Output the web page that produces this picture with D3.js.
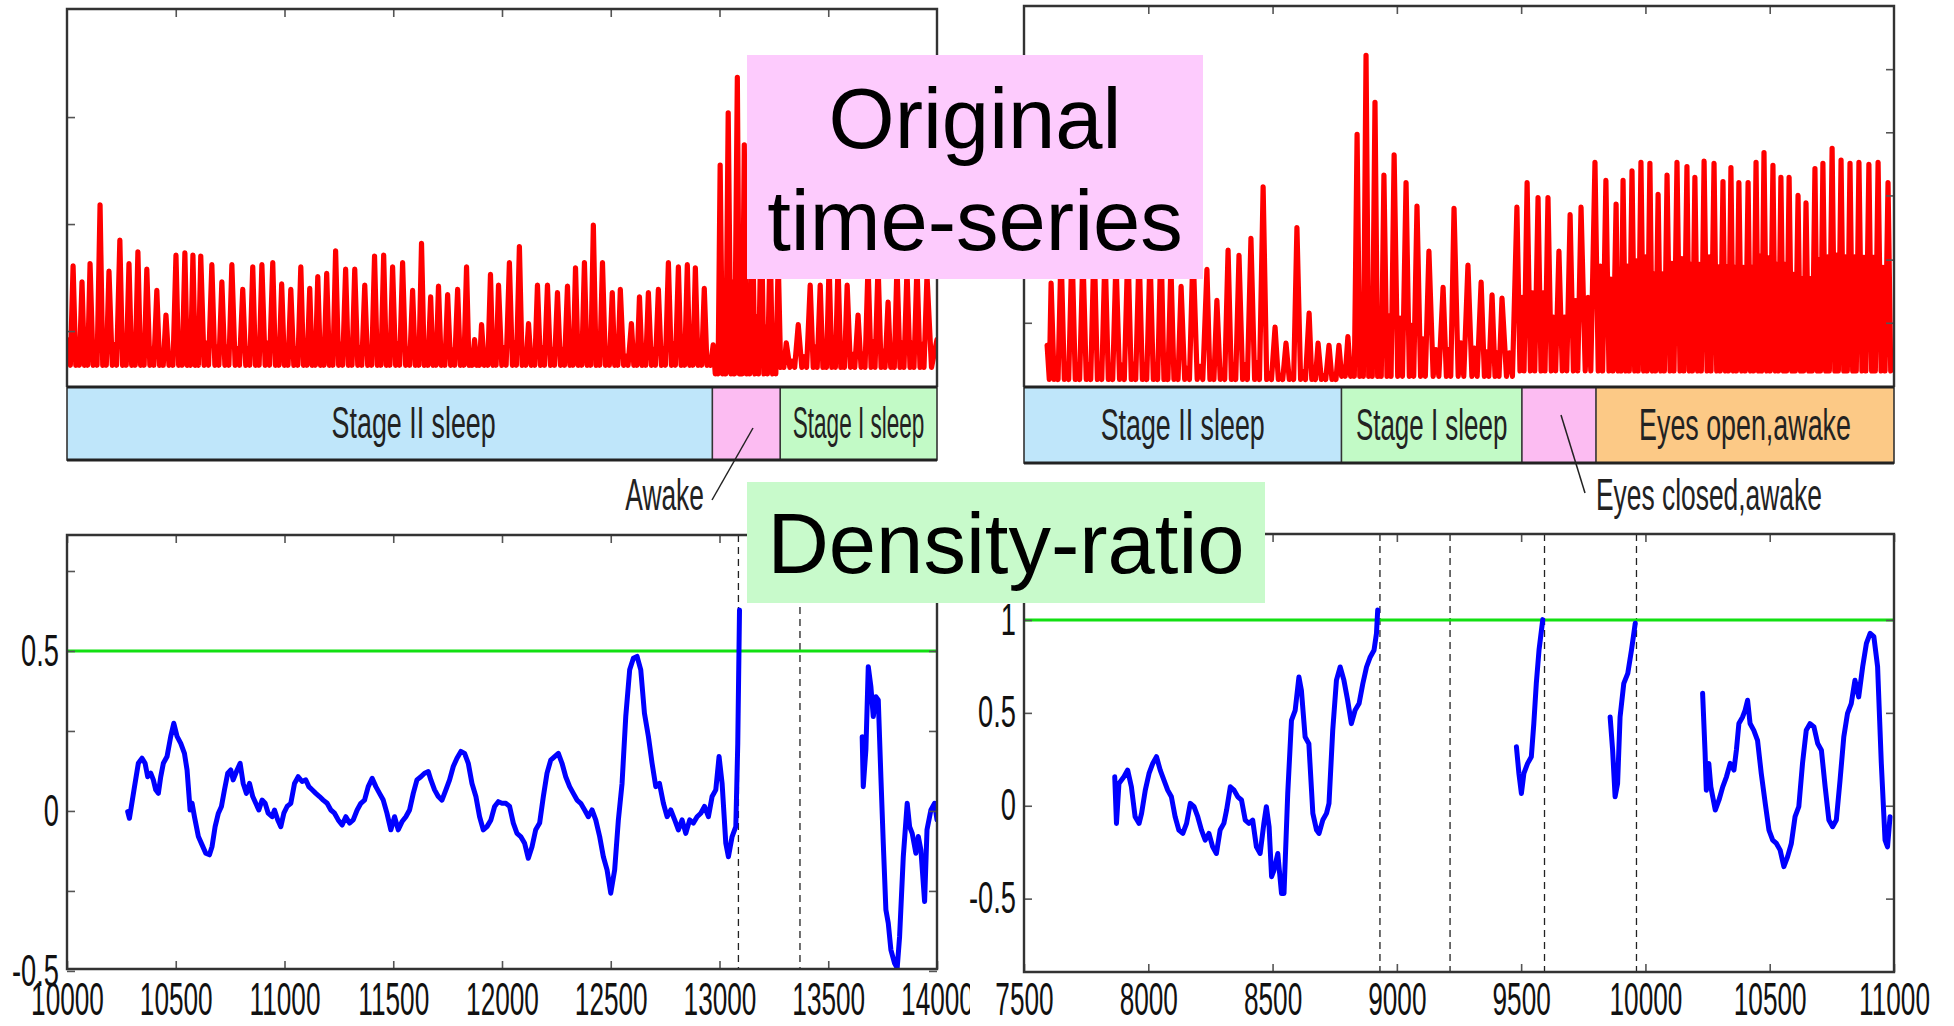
<!DOCTYPE html>
<html>
<head>
<meta charset="utf-8">
<script src="https://cdn.jsdelivr.net/npm/d3@7"></script>
<style>
html, body { margin: 0; padding: 0; background: #fff; }
svg { display: block; }
</style>
</head>
<body>
<div class="canvas"></div>
<script>
// ---- data ----

// tick values
const leftXTicks = [10000, 10500, 11000, 11500, 12000, 12500, 13000, 13500, 14000];
const rightXTicks = [7500, 8000, 8500, 9000, 9500, 10000, 10500, 11000];
const leftRatioTicks = [-0.5, -0.25, 0, 0.25, 0.5, 0.75];
const leftRatioLabels = [-0.5, 0, 0.5];
const rightRatioTicks = [-0.5, 0, 0.5, 1];
const signalTicksLeft = [1, 2, 3];
const signalTicksRight = [1, 1.59, 2.19, 2.78, 3.37];

// sleep stages under the raw signal
const leftStages = ['Stage II sleep', 'Awake', 'Stage I sleep'];
const leftStageEdges = [10000, 12967, 13279, 14000];
const rightStages = ['Stage II sleep', 'Stage I sleep', 'Eyes closed,awake', 'Eyes open,awake'];
const rightStageEdges = [7500, 8777, 9503, 9801, 11000];

// baseline (trough) level of the raw signal per stage, and how high the
// small mid-beat wave rises (share of the lower neighbouring peak)
const leftTrough = [0.68, 0.60, 0.66];
const leftNotchShare = [0.22, 0.35, 0.25];
const rightTrough = [0.47, 0.50, 0.55, 0.55];
const rightNotchShare = [0.12, 0.30, 0.45, 0.55];

// raw time-series: start, beat peaks [t, amplitude], end
const leftStart = [10000, 0.92];
const leftEnd = [14000, 0.92];
const leftPeaks = [
    [10028,1.61],[10069,1.46],[10106,1.63],[10152,2.18],[10193,1.56],[10243,1.85],[10285,1.63],[10326,1.74],
    [10367,1.58],[10413,1.38],[10455,1.15],[10501,1.71],[10542,1.73],[10579,1.71],[10615,1.70],[10666,1.62],
    [10712,1.46],[10758,1.62],[10808,1.39],[10854,1.60],[10896,1.62],[10946,1.64],[10987,1.44],[11029,1.39],
    [11075,1.60],[11116,1.40],[11153,1.51],[11194,1.54],[11235,1.75],[11281,1.58],[11323,1.58],[11369,1.43],
    [11414,1.70],[11456,1.71],[11497,1.60],[11543,1.64],[11589,1.38],[11630,1.82],[11672,1.32],[11708,1.42],
    [11750,1.34],[11796,1.39],[11837,1.60],[11874,0.92],[11906,1.06],[11947,1.53],[11984,1.43],[12034,1.64],
    [12080,1.79],[12122,1.07],[12163,1.43],[12209,1.43],[12255,1.36],[12301,1.42],[12338,1.59],[12379,1.64],
    [12420,1.99],[12462,1.64],[12507,1.36],[12544,1.39],[12595,1.07],[12632,1.32],[12673,1.36],[12719,1.39],
    [12765,1.64],[12811,1.60],[12852,1.62],[12889,1.59],[12930,1.40],[12971,0.87],[13003,2.55],[13040,3.04],
    [13082,3.37],[13114,2.74],[13150,2.32],[13192,2.13],[13233,1.85],[13270,1.66],[13307,0.89],[13362,1.06],
    [13417,1.43],[13463,1.43],[13504,1.62],[13545,1.62],[13587,1.43],[13637,1.15],[13683,1.62],[13729,1.62],
    [13775,1.27],[13816,1.62],[13862,1.57],[13908,1.62],[13954,1.52]
];
const rightStart = [7593, 0.79];
const rightEnd = [11000, 0.68];
const rightPeaks = [
    [7609,1.37],[7649,1.68],[7693,1.73],[7737,1.64],[7782,1.78],[7826,1.68],[7870,1.59],[7918,1.73],
    [7963,1.68],[8007,1.64],[8051,1.78],[8091,1.54],[8132,1.34],[8180,1.68],[8236,1.50],[8276,1.21],
    [8321,1.68],[8365,1.63],[8413,1.79],[8462,2.27],[8510,0.96],[8554,0.81],[8598,1.89],[8647,1.09],
    [8683,0.81],[8727,0.79],[8767,0.79],[8803,0.87],[8840,2.76],[8876,3.50],[8912,3.06],[8948,2.38],
    [8989,2.57],[9037,2.31],[9081,2.09],[9129,1.67],[9186,1.33],[9230,2.07],[9286,1.54],[9339,1.38],
    [9383,1.26],[9423,1.23],[9483,2.08],[9524,2.31],[9568,2.17],[9608,2.17],[9652,1.67],[9697,2.01],
    [9741,2.08],[9797,2.50],[9841,2.33],[9882,2.11],[9910,2.33],[9946,2.42],[9982,2.50],[10018,2.49],
    [10051,2.20],[10087,2.38],[10127,2.50],[10167,2.46],[10199,2.36],[10236,2.51],[10276,2.49],[10312,2.32],
    [10344,2.45],[10376,2.31],[10413,2.31],[10445,2.50],[10477,2.59],[10513,2.47],[10545,2.36],[10578,2.36],
    [10614,2.19],[10646,2.12],[10682,2.44],[10714,2.49],[10751,2.63],[10787,2.52],[10823,2.49],[10859,2.50],
    [10899,2.48],[10936,2.50],[10976,2.31]
];

// density-ratio curves (gaps where no estimate was drawn)
const leftRatioA = [
    [10279,-0.002],[10287,-0.023],[10308,0.066],[10328,0.149],[10345,0.165],[10359,0.149],[10371,0.107],[10385,0.118],
    [10397,0.097],[10408,0.066],[10420,0.055],[10431,0.107],[10443,0.149],[10460,0.170],[10477,0.233],[10491,0.274],
    [10506,0.233],[10523,0.211],[10540,0.180],[10552,0.128],[10566,0.003],[10575,0.024],[10586,-0.018],[10604,-0.080],
    [10621,-0.106],[10638,-0.132],[10655,-0.137],[10667,-0.111],[10681,-0.049],[10696,-0.007],[10710,0.014],[10724,0.066],
    [10739,0.118],[10753,0.128],[10764,0.097],[10782,0.128],[10796,0.149],[10810,0.086],[10825,0.055],[10839,0.086],
    [10854,0.045],[10868,0.024],[10882,0.003],[10897,0.034],[10911,0.024],[10925,-0.007],[10943,-0.018],[10954,0.003],
    [10969,-0.028],[10983,-0.049],[10997,-0.007],[11012,0.014],[11029,0.024],[11046,0.086],[11063,0.107],[11081,0.092],
    [11098,0.097],[11112,0.076],[11127,0.066],[11144,0.055],[11161,0.045],[11178,0.034],[11196,0.024],[11213,0.003],
    [11230,-0.007],[11247,-0.028],[11265,-0.044],[11282,-0.018],[11299,-0.038],[11316,-0.028],[11334,0.003],[11351,0.024],
    [11368,0.034],[11385,0.076],[11403,0.102],[11420,0.076],[11437,0.055],[11454,0.034],[11471,-0.007],[11489,-0.059],
    [11506,-0.018],[11523,-0.059],[11540,-0.034],[11558,-0.018],[11575,0.003],[11592,0.055],[11609,0.097],[11627,0.107],
    [11644,0.118],[11661,0.123],[11673,0.097],[11690,0.066],[11707,0.045],[11724,0.034],[11742,0.066],[11759,0.097],
    [11776,0.139],[11793,0.165],[11811,0.186],[11828,0.180],[11845,0.149],[11862,0.086],[11880,0.045],[11897,-0.018],
    [11914,-0.059],[11931,-0.049],[11949,-0.028],[11966,0.014],[11983,0.029],[12000,0.024],[12018,0.024],[12035,0.014],
    [12052,-0.038],[12069,-0.070],[12086,-0.080],[12104,-0.101],[12121,-0.148],[12138,-0.112],[12155,-0.059],[12173,-0.038],
    [12190,0.045],[12207,0.118],[12224,0.159],[12242,0.170],[12259,0.180],[12276,0.149],[12293,0.107],[12311,0.076],
    [12328,0.055],[12345,0.034],[12362,0.024],[12380,0.003],[12397,-0.018],[12414,0.003],[12431,-0.028],[12449,-0.080],
    [12466,-0.143],[12483,-0.184],[12500,-0.257],[12518,-0.184],[12535,-0.028],[12552,0.086],[12569,0.295],[12587,0.441],
    [12604,0.477],[12621,0.483],[12638,0.441],[12655,0.305],[12673,0.233],[12690,0.149],[12707,0.076],[12724,0.086],
    [12742,0.024],[12759,-0.018],[12776,0.003],[12794,-0.028],[12811,-0.059],[12828,-0.028],[12845,-0.070],[12863,-0.028],
    [12880,-0.038],[12897,-0.018],[12914,-0.007],[12931,0.014],[12949,-0.018],[12966,0.045],[12983,0.066],[12998,0.170],
    [13012,0.086],[13029,-0.101],[13041,-0.143],[13058,-0.080],[13075,-0.049],[13084,0.211],[13092,0.628]
];
const leftRatioB = [
    [13656,0.232],[13661,0.076],[13673,0.191],[13684,0.451],[13696,0.389],[13707,0.295],[13719,0.357],[13730,0.347],
    [13742,0.107],[13753,-0.101],[13765,-0.309],[13776,-0.351],[13788,-0.434],[13805,-0.476],[13817,-0.491],[13828,-0.393],
    [13845,-0.143],[13863,0.024],[13874,-0.049],[13886,-0.070],[13903,-0.132],[13914,-0.080],[13926,-0.122],[13943,-0.283],
    [13954,-0.059],[13972,0.003],[13989,0.024],[14000,-0.028]
];
const rightRatioA = [
    [7865,0.156],[7872,-0.095],[7882,0.120],[7902,0.156],[7917,0.192],[7932,0.102],[7947,-0.059],[7963,-0.095],
    [7973,-0.041],[7988,0.084],[8003,0.174],[8018,0.228],[8033,0.264],[8048,0.192],[8063,0.138],[8078,0.084],
    [8093,0.048],[8108,-0.059],[8123,-0.131],[8139,-0.149],[8154,-0.095],[8169,0.013],[8184,-0.005],[8199,-0.059],
    [8214,-0.131],[8229,-0.185],[8244,-0.149],[8259,-0.221],[8274,-0.257],[8289,-0.131],[8304,-0.095],[8315,-0.023],
    [8330,0.102],[8345,0.084],[8360,0.048],[8375,0.031],[8390,-0.077],[8405,-0.095],[8420,-0.077],[8435,-0.221],
    [8450,-0.257],[8465,-0.095],[8475,-0.005],[8486,-0.113],[8496,-0.382],[8506,-0.346],[8521,-0.257],[8536,-0.472],
    [8546,-0.472],[8561,0.066],[8576,0.460],[8591,0.514],[8606,0.693],[8616,0.621],[8631,0.370],[8646,0.334],
    [8662,-0.041],[8677,-0.131],[8687,-0.149],[8702,-0.077],[8717,-0.041],[8727,0.013],[8742,0.406],[8757,0.676],
    [8772,0.747],[8787,0.676],[8802,0.568],[8817,0.442],[8832,0.514],[8848,0.550],[8863,0.657],[8878,0.747],
    [8893,0.801],[8908,0.837],[8918,0.928],[8923,1.054]
];
const rightRatioB = [
    [9481,0.318],[9491,0.174],[9501,0.066],[9511,0.174],[9526,0.228],[9541,0.264],[9551,0.443],[9561,0.659],
    [9572,0.839],[9587,1.002]
];
const rightRatioC = [
    [9858,0.478],[9868,0.300],[9878,0.048],[9888,0.120],[9898,0.478],[9913,0.659],[9929,0.713],[9944,0.839],
    [9959,0.982]
];
const rightRatioD = [
    [10230,0.606],[10240,0.285],[10245,0.084],[10255,0.228],[10263,0.102],[10281,-0.023],[10296,0.031],[10311,0.102],
    [10326,0.156],[10341,0.228],[10356,0.192],[10366,0.300],[10376,0.443],[10391,0.478],[10401,0.514],[10411,0.568],
    [10421,0.443],[10436,0.406],[10451,0.352],[10466,0.174],[10482,0.013],[10497,-0.131],[10512,-0.185],[10527,-0.203],
    [10542,-0.239],[10557,-0.328],[10572,-0.274],[10587,-0.203],[10602,-0.059],[10617,-0.005],[10632,0.229],[10647,0.406],
    [10662,0.442],[10678,0.424],[10693,0.335],[10708,0.299],[10723,0.102],[10738,-0.077],[10753,-0.113],[10768,-0.077],
    [10783,0.138],[10798,0.371],[10813,0.497],[10828,0.550],[10843,0.676],[10858,0.586],[10874,0.749],[10889,0.874],
    [10904,0.928],[10919,0.910],[10934,0.749],[10949,0.227],[10964,-0.185],[10974,-0.221],[10984,-0.059]
];

const leftThreshold = 0.5;
const rightThreshold = 1;
const leftChangePoints = [13087, 13370];
const rightChangePoints = [8932, 9214, 9594, 9964];

// ---- drawing ----
const FONT = '"Liberation Sans", Arial, Helvetica, sans-serif';

const stageColour = {
    'Stage II sleep': '#bfe6fa',
    'Stage I sleep': '#c2fac6',
    'Awake': '#fcbcf2',
    'Eyes closed,awake': '#fcbcf2',
    'Eyes open,awake': '#fcc986'
};

const svg = d3.select('.canvas')
    .append('svg')
    .attr('width', 1954)
    .attr('height', 1026)
;

const defs = svg.append('defs');

// squash text horizontally, like the stretched figure (optionally fit to maxW)
const squeeze = (sel, k, maxW) => {
    sel.each(function () {
        const el = d3.select(this);
        const w = this.getComputedTextLength();
        let kk = k;
        if (maxW && w * kk > maxW) kk = maxW / w;
        const x = +el.attr('x') || 0;
        el.attr('x', x / kk).attr('transform', `scale(${kk},1)`);
    });
};

const clipFor = (id, p) => {
    defs.append('clipPath').attr('id', id)
        .append('rect')
            .attr('x', p.x0).attr('y', p.y0)
            .attr('width', p.x1 - p.x0).attr('height', p.y1 - p.y0);
    return `url(#${id})`;
};

const styleAxis = (ax) => {
    ax.select('.domain').remove();
    ax.attr('font-family', FONT).attr('font-size', 46);
    ax.selectAll('.tick line').attr('stroke', '#555').attr('stroke-width', 1.6);
    ax.selectAll('.tick text').attr('fill', '#111');
};

// frame + inward ticks
const drawFrame = (p, x, y, opt) => {
    const g = svg.append('g');
    const fmt = d => String(d);

    if (opt.top) {
        const ax = g.append('g').attr('transform', `translate(0,${p.y0})`)
            .call(d3.axisTop(x).tickValues(opt.xTicks).tickSize(-8).tickFormat(''));
        styleAxis(ax);
    }
    if (opt.bottom) {
        const ax = g.append('g').attr('transform', `translate(0,${p.y1})`)
            .call(d3.axisBottom(x).tickValues(opt.xTicks).tickSize(-8).tickPadding(opt.xPad)
                .tickFormat(opt.xLabels ? fmt : ''));
        styleAxis(ax);
        if (opt.xClip) ax.attr('clip-path', opt.xClip);
        squeeze(ax.selectAll('.tick text'), 0.57);
    }
    if (opt.yTicks) {
        const labels = opt.yLabels || [];
        const ax = g.append('g').attr('transform', `translate(${p.x0},0)`)
            .call(d3.axisLeft(y).tickValues(opt.yTicks).tickSize(-8).tickPadding(8)
                .tickFormat(d => labels.includes(d) ? fmt(d) : ''));
        styleAxis(ax);
        ax.attr('font-size', 44);
        squeeze(ax.selectAll('.tick text'), 0.62);
    }
    if (opt.yTicksRight) {
        const ax = g.append('g').attr('transform', `translate(${p.x1},0)`)
            .call(d3.axisRight(y).tickValues(opt.yTicksRight).tickSize(-8).tickFormat(''));
        styleAxis(ax);
    }

    // box
    g.append('path')
        .attr('d', opt.open
            ? `M${p.x0},${p.y1}V${p.y0}H${p.x1}V${p.y1}`
            : `M${p.x0},${p.y0}H${p.x1}V${p.y1}H${p.x0}Z`)
        .attr('fill', 'none')
        .attr('stroke', '#333')
        .attr('stroke-width', 2.4)
    ;
    return g;
};

// raw signal: peaks joined through a trough / small wave / trough per beat
const beatLine = (start, peaks, end, edges, trough, share) => {
    const stageOf = t => Math.min(Math.max(0, d3.bisectRight(edges, t) - 1), trough.length - 1);
    const pts = [start];
    const seq = [start, ...peaks, end];
    for (let i = 1; i < seq.length; i++) {
        const a = seq[i - 1], b = seq[i];
        const dt = b[0] - a[0];
        const s = stageOf(a[0] + dt / 2);
        const tr = trough[s];
        const nt = tr + share[s] * (Math.min(a[1], b[1]) - tr);
        if (i === 1) {
            pts.push([a[0] + dt * 0.55, tr]);
        } else if (i === seq.length - 1) {
            pts.push([a[0] + dt * 0.45, tr]);
        } else {
            pts.push([a[0] + dt * 0.3, tr]);
            pts.push([a[0] + dt * 0.5, nt]);
            pts.push([a[0] + dt * 0.7, tr]);
        }
        pts.push(b);
    }
    return pts;
};

const drawSignal = (p, x, y, pts, clipId) => {
    svg.append('path')
        .datum(pts)
        .attr('clip-path', clipFor(clipId, p))
        .attr('d', d3.line().x(d => x(d[0])).y(d => y(d[1])))
        .attr('fill', 'none')
        .attr('stroke', '#ff0000')
        .attr('stroke-width', 5.2)
        .attr('stroke-linejoin', 'round')
        .attr('stroke-linecap', 'round')
    ;
};

const drawStages = (p, x, names, edges, insideLabel, labelShift) => {
    const g = svg.append('g');
    const segs = names.map((n, i) => ({ name: n, a: x(edges[i]), b: x(edges[i + 1]), shift: labelShift[i] || 0 }));

    g.selectAll('rect.stage')
        .data(segs)
        .enter()
        .append('rect')
            .attr('class', 'stage')
            .attr('x', d => d.a)
            .attr('y', p.y1)
            .attr('width', d => d.b - d.a)
            .attr('height', p.barBottom - p.y1)
            .attr('fill', d => stageColour[d.name])
    ;

    g.selectAll('line.div')
        .data(segs.slice(1))
        .enter()
        .append('line')
            .attr('class', 'div')
            .attr('x1', d => d.a).attr('x2', d => d.a)
            .attr('y1', p.y1).attr('y2', p.barBottom)
            .attr('stroke', '#333')
            .attr('stroke-width', 1.6)
    ;

    g.append('rect')
        .attr('x', p.x0).attr('y', p.y1)
        .attr('width', p.x1 - p.x0).attr('height', p.barBottom - p.y1)
        .attr('fill', 'none').attr('stroke', '#333').attr('stroke-width', 1.6);
    [p.y1, p.barBottom].forEach(yy => {
        g.append('line')
            .attr('x1', p.x0).attr('x2', p.x1).attr('y1', yy).attr('y2', yy)
            .attr('stroke', '#222').attr('stroke-width', 3.2);
    });

    const labelled = segs.filter(d => insideLabel.includes(d.name));
    const txt = g.selectAll('text.stage')
        .data(labelled)
        .enter()
        .append('text')
            .attr('class', 'stage')
            .attr('x', d => (d.a + d.b) / 2 + d.shift)
            .attr('y', (p.y1 + p.barBottom) / 2 + 15)
            .attr('text-anchor', 'middle')
            .attr('font-family', FONT)
            .attr('font-size', 44)
            .attr('fill', '#222')
            .text(d => d.name)
    ;
    txt.each(function (d) {
        squeeze(d3.select(this), 0.61, (d.b - d.a) * 0.84);
    });
};

const drawRatio = (p, x, y, segments, threshold, changes, clipId) => {
    const clip = clipFor(clipId, p);
    const g = svg.append('g').attr('clip-path', clip);

    g.selectAll('line.cp')
        .data(changes)
        .enter()
        .append('line')
            .attr('class', 'cp')
            .attr('x1', d => x(d)).attr('x2', d => x(d))
            .attr('y1', p.y0).attr('y2', p.y1)
            .attr('stroke', '#222')
            .attr('stroke-width', 1.3)
            .attr('stroke-dasharray', '7,5')
    ;

    g.append('line')
        .attr('x1', p.x0).attr('x2', p.x1)
        .attr('y1', y(threshold)).attr('y2', y(threshold))
        .attr('stroke', '#11e011')
        .attr('stroke-width', 3)
    ;

    const line = d3.line().x(d => x(d[0])).y(d => y(d[1]));
    g.selectAll('path.ratio')
        .data(segments)
        .enter()
        .append('path')
            .attr('class', 'ratio')
            .attr('d', line)
            .attr('fill', 'none')
            .attr('stroke', '#0000ff')
            .attr('stroke-width', 5)
            .attr('stroke-linejoin', 'round')
            .attr('stroke-linecap', 'round')
    ;
};

// layout
const pTL = { x0: 67, x1: 937, y0: 9, y1: 387, barBottom: 460 };
const pTR = { x0: 1024, x1: 1894, y0: 6, y1: 387, barBottom: 463 };
const pBL = { x0: 67, x1: 937, y0: 535, y1: 969 };
const pBR = { x0: 1024, x1: 1894, y0: 534, y1: 972 };

// scales
const xLeft = d3.scaleLinear().domain([leftXTicks[0], leftXTicks[leftXTicks.length - 1]]).range([pTL.x0, pTL.x1]);
const xRight = d3.scaleLinear().domain([rightXTicks[0], rightXTicks[rightXTicks.length - 1]]).range([pTR.x0, pTR.x1]);
const ySigLeft = d3.scaleLinear().domain([0.477, 4.01]).range([pTL.y1, pTL.y0]);
const ySigRight = d3.scaleLinear().domain([0.40, 3.96]).range([pTR.y1, pTR.y0]);
const yRatLeft = d3.scaleLinear().domain([-0.494, 0.8625]).range([pBL.y1, pBL.y0]);
const yRatRight = d3.scaleLinear().domain([-0.895, 1.463]).range([pBR.y1, pBR.y0]);

// top: original time-series
drawSignal(pTL, xLeft, ySigLeft,
    beatLine(leftStart, leftPeaks, leftEnd, leftStageEdges, leftTrough, leftNotchShare), 'clipTL');
drawFrame(pTL, xLeft, ySigLeft, { top: true, open: true, xTicks: leftXTicks.slice(1, -1), yTicks: signalTicksLeft });
drawStages(pTL, xLeft, leftStages, leftStageEdges, ['Stage II sleep', 'Stage I sleep'], [24, 0, 0]);

drawSignal(pTR, xRight, ySigRight,
    beatLine(rightStart, rightPeaks, rightEnd, rightStageEdges, rightTrough, rightNotchShare), 'clipTR');
drawFrame(pTR, xRight, ySigRight, { top: true, open: true, xTicks: rightXTicks.slice(1, -1),
    yTicks: signalTicksLeft, yTicksRight: signalTicksRight });
drawStages(pTR, xRight, rightStages, rightStageEdges, ['Stage II sleep', 'Stage I sleep', 'Eyes open,awake'], []);

// call-outs for the short awake spans
const callout = (x1, y1, x2, y2, tx, ty, anchor, label) => {
    svg.append('line')
        .attr('x1', x1).attr('y1', y1).attr('x2', x2).attr('y2', y2)
        .attr('stroke', '#222').attr('stroke-width', 1.5);
    const t = svg.append('text')
        .attr('x', tx).attr('y', ty)
        .attr('text-anchor', anchor)
        .attr('font-family', FONT)
        .attr('font-size', 44)
        .attr('fill', '#222')
        .text(label);
    squeeze(t, 0.6);
};
callout(753, 428, 712, 500, 704, 510, 'end', leftStages[1]);
callout(1561, 415, 1585, 493, 1596, 510, 'start', rightStages[2]);

// bottom: density-ratio
drawRatio(pBL, xLeft, yRatLeft, [leftRatioA, leftRatioB], leftThreshold, leftChangePoints, 'clipBL');
defs.append('clipPath').attr('id', 'clipBLx')
    .append('rect').attr('x', 0).attr('y', -60).attr('width', 970).attr('height', 200);
drawFrame(pBL, xLeft, yRatLeft, { top: true, bottom: true, xLabels: true, xTicks: leftXTicks, xPad: 13,
    xClip: 'url(#clipBLx)', yTicks: leftRatioTicks, yLabels: leftRatioLabels, yTicksRight: leftRatioTicks });

drawRatio(pBR, xRight, yRatRight, [rightRatioA, rightRatioB, rightRatioC, rightRatioD],
    rightThreshold, rightChangePoints, 'clipBR');
drawFrame(pBR, xRight, yRatRight, { top: true, bottom: true, xLabels: true, xTicks: rightXTicks, xPad: 10,
    yTicks: rightRatioTicks, yLabels: rightRatioTicks, yTicksRight: rightRatioTicks });

// overlay captions
const caption = (x0, y0, x1, y1, fill, lines, baselines) => {
    svg.append('rect')
        .attr('x', x0).attr('y', y0)
        .attr('width', x1 - x0).attr('height', y1 - y0)
        .attr('fill', fill);
    lines.forEach((s, i) => {
        svg.append('text')
            .attr('x', (x0 + x1) / 2)
            .attr('y', baselines[i])
            .attr('text-anchor', 'middle')
            .attr('font-family', FONT)
            .attr('font-size', 85)
            .attr('fill', '#000')
            .text(s);
    });
};
caption(747, 55, 1203, 279, '#fdcbfd', ['Original', 'time-series'], [148, 250]);
caption(747, 482, 1265, 603, '#c8facb', ['Density-ratio'], [573]);
</script>
</body>
</html>
